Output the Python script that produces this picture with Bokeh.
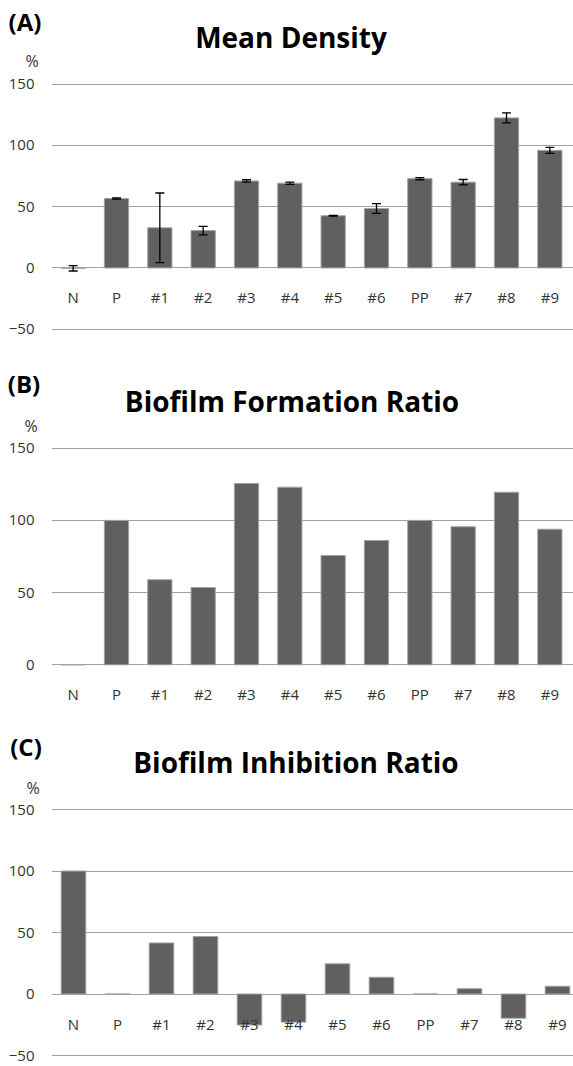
from bokeh.plotting import figure
from bokeh.models import ColumnDataSource, FixedTicker, Whisker, TeeHead, Range1d, Div
from bokeh.layouts import column
from bokeh.embed import file_html
from bokeh.resources import INLINE
from bokeh.core.properties import value

# ---------------- data ----------------
categories = ["N", "P", "#1", "#2", "#3", "#4", "#5", "#6", "PP", "#7", "#8", "#9"]
mean_density = [-0.3, 56.7, 32.8, 30.5, 71.0, 69.2, 42.6, 48.5, 72.9, 70.0, 122.5, 96.0]
mean_density_err = [2.2, 0.5, 28.4, 3.5, 1.0, 0.9, 0.2, 4.0, 0.9, 2.2, 4.1, 2.5]
formation_ratio = [0, 100, 58.9, 53.5, 125.6, 123.0, 75.7, 86.1, 100, 95.6, 119.5, 93.9]
inhibition_ratio = [100, 0, 41.5, 46.7, -25.2, -22.9, 24.5, 13.6, 0, 4.3, -19.7, 6.3]
ticks_full = [-50, 0, 50, 100, 150]
ticks_pos = [0, 50, 100, 150]

BAR = "#606060"
EDGE = "#a3a3a3"
GRID = "#a2a2a2"
TXT = "#333333"
FONT = "Open Sans"
W = 573


def header(letter, title, top, h, letter_xy, title_xy, pct_xy):
    def span(txt, xy, size, weight, color):
        return (f'<span style="position:absolute;left:{xy[0]}px;top:{xy[1] - top}px;'
                f'transform:translate(-50%,-50%);white-space:nowrap;'
                f'font-family:\'{FONT}\';font-size:{size}px;font-weight:{weight};'
                f'color:{color};line-height:1;">{txt}</span>')
    html = (f'<div style="position:relative;width:{W}px;height:{h}px;margin:0;padding:0;">'
            + span(letter, letter_xy, 24, 700, "#000")
            + span(title, title_xy, 28, 700, "#000")
            + span("%", pct_xy, 16, 400, TXT)
            + '</div>')
    return Div(text=html, width=W, height=h, margin=0)


def make_panel(vals, errs, ticks, fig_top, fig_h, frame_left, y150_page, ppu,
               band, label_page_y):
    frame_top = fig_top
    frame_bottom = fig_top + fig_h
    y_end = 150 + (y150_page - frame_top) / ppu
    y_start = 150 - (frame_bottom - y150_page) / ppu
    x_end = (W - frame_left) / band

    def dy(py):
        return 150 - (py - y150_page) / ppu

    p = figure(width=W, height=fig_h,
               x_range=Range1d(0, x_end), y_range=Range1d(y_start, y_end),
               min_border_left=frame_left, min_border_right=0,
               min_border_top=0, min_border_bottom=0,
               toolbar_location=None, output_backend="svg", title=None,
               x_axis_location=None, margin=0)
    p.outline_line_color = None
    p.background_fill_color = "white"
    p.border_fill_color = "white"
    for g in p.xgrid:
        g.visible = False

    tk = FixedTicker(ticks=ticks)
    p.yaxis.ticker = tk
    p.ygrid.ticker = tk
    p.ygrid.grid_line_color = GRID
    p.ygrid.grid_line_width = 1
    p.yaxis.axis_line_color = None
    p.yaxis.major_tick_line_color = None
    p.yaxis.minor_tick_line_color = None
    p.yaxis.major_tick_out = 0
    p.yaxis.major_tick_in = 0
    p.yaxis.major_label_standoff = 17
    p.yaxis.major_label_text_font = FONT
    p.yaxis.major_label_text_font_size = "15px"
    p.yaxis.major_label_text_color = TXT

    xs = [i + 0.5 for i in range(len(categories))]
    src = ColumnDataSource(dict(x=xs, v=vals, cat=categories,
                                ly=[dy(label_page_y)] * len(categories)))
    p.vbar(x="x", top="v", bottom=0, width=0.56, source=src,
           fill_color=BAR, line_color=EDGE, line_width=1)

    if errs is not None:
        esrc = ColumnDataSource(dict(
            base=xs,
            upper=[v + e for v, e in zip(vals, errs)],
            lower=[v - e for v, e in zip(vals, errs)]))
        w = Whisker(base="base", upper="upper", lower="lower", source=esrc,
                    line_color="black", line_width=1.3,
                    upper_head=TeeHead(size=9, line_color="black", line_width=1.3),
                    lower_head=TeeHead(size=9, line_color="black", line_width=1.3),
                    level="annotation")
        p.add_layout(w)

    p.text(x="x", y="ly", text="cat", source=src, text_align="center",
           text_baseline="middle", text_font=value(FONT),
           text_font_size="15px", text_color=TXT)
    return p


ha = header("(A)", "Mean Density", 0, 70, (25, 22), (291, 37), (32, 61))
pa = make_panel(mean_density, mean_density_err, ticks_full,
                70, 270, 49, 83.7, 1.225, 43.5, 296)
hb = header("(B)", "Biofilm Formation Ratio", 340, 95, (24, 384), (292, 401), (31, 426))
pb = make_panel(formation_ratio, None, ticks_pos,
                435, 277, 49, 447.7, 1.444, 43.5, 693)
hc = header("(C)", "Biofilm Inhibition Ratio", 712, 84, (26, 747), (296, 762), (33, 788))
pc = make_panel(inhibition_ratio, None, ticks_full,
                796, 270, 51, 809, 1.23, 44, 1023)

layout = column(ha, pa, hb, pb, hc, pc, spacing=0)
open("out.html", "w").write(file_html(layout, INLINE))
